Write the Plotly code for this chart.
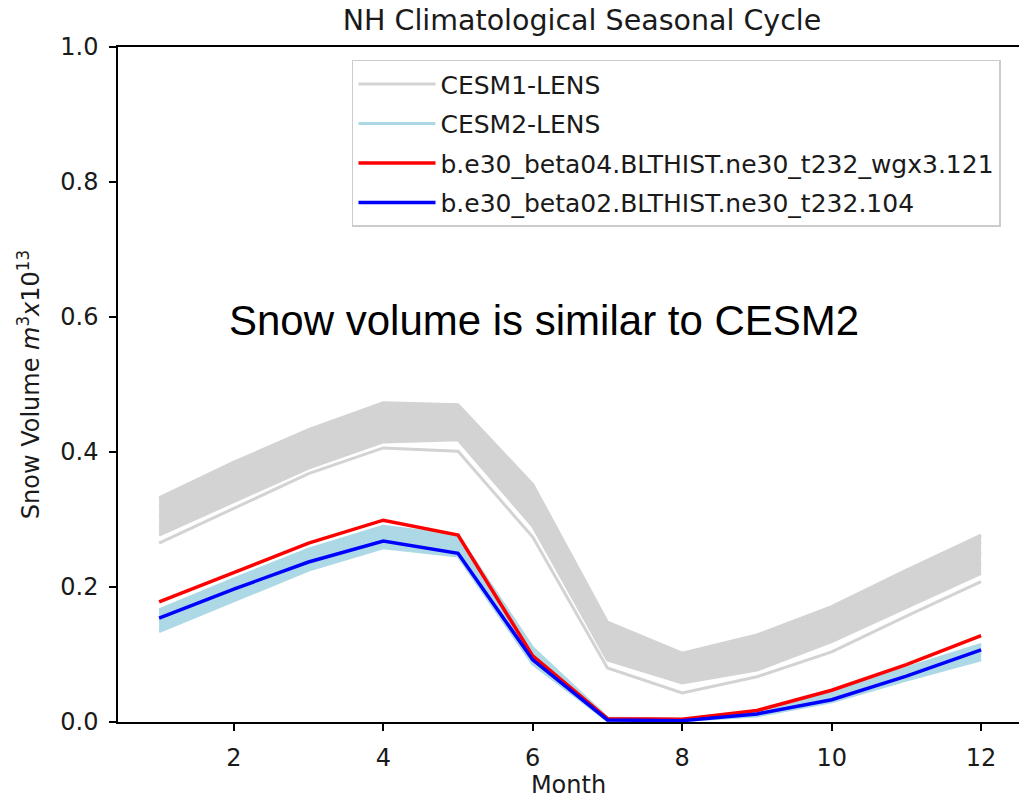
import plotly.graph_objects as go

months = [1, 2, 3, 4, 5, 6, 7, 8, 9, 10, 11, 12]

# CESM1-LENS ensemble members (top to bottom), units m^3 x 10^13
cesm1_m1 = [0.332, 0.385, 0.433, 0.473, 0.470, 0.352, 0.148, 0.102, 0.129, 0.171, 0.225, 0.277]
cesm1_m2 = [0.318, 0.372, 0.425, 0.465, 0.462, 0.340, 0.138, 0.093, 0.119, 0.160, 0.214, 0.266]
cesm1_m3 = [0.305, 0.358, 0.410, 0.452, 0.450, 0.325, 0.125, 0.082, 0.106, 0.148, 0.200, 0.252]
cesm1_m4 = [0.290, 0.342, 0.392, 0.432, 0.432, 0.308, 0.108, 0.070, 0.092, 0.133, 0.185, 0.236]
cesm1_m5 = [0.277, 0.326, 0.376, 0.415, 0.418, 0.290, 0.092, 0.058, 0.077, 0.119, 0.170, 0.220]
cesm1_m6 = [0.265, 0.317, 0.368, 0.406, 0.401, 0.274, 0.080, 0.043, 0.067, 0.104, 0.157, 0.208]

# CESM2-LENS ensemble members (top to bottom)
cesm2_m1 = [0.166, 0.212, 0.256, 0.290, 0.276, 0.110, 0.006, 0.004, 0.016, 0.046, 0.080, 0.115]
cesm2_m2 = [0.150, 0.196, 0.240, 0.274, 0.261, 0.098, 0.004, 0.003, 0.013, 0.038, 0.071, 0.103]
cesm2_m3 = [0.134, 0.180, 0.225, 0.258, 0.246, 0.086, 0.002, 0.002, 0.009, 0.030, 0.062, 0.092]

beta04 = [0.178, 0.222, 0.265, 0.299, 0.277, 0.098, 0.005, 0.004, 0.017, 0.047, 0.085, 0.128]
beta02 = [0.154, 0.197, 0.237, 0.268, 0.250, 0.092, 0.003, 0.002, 0.012, 0.033, 0.068, 0.107]

cesm1_members = [cesm1_m1, cesm1_m2, cesm1_m3, cesm1_m4, cesm1_m5]
cesm1_outlier = cesm1_m6
cesm2_members = [cesm2_m1, cesm2_m2, cesm2_m3]

x_ticks = [2, 4, 6, 8, 10, 12]
y_ticks = [0.0, 0.2, 0.4, 0.6, 0.8, 1.0]

GRAY = "#d3d3d3"
LBLUE = "#add8e6"
FONT = "DejaVu Sans"
TXT = "#1a1a1a"

fig = go.Figure()

for i, m in enumerate(cesm1_members):
    fig.add_trace(go.Scatter(
        x=months, y=m, mode="lines", name="CESM1-LENS",
        line=dict(color=GRAY, width=3),
        fill="tonexty" if i > 0 else None, fillcolor=GRAY,
        legendgroup="cesm1", showlegend=(i == 0)))
fig.add_trace(go.Scatter(
    x=months, y=cesm1_outlier, mode="lines", name="CESM1-LENS",
    line=dict(color=GRAY, width=3), legendgroup="cesm1", showlegend=False))

for i, m in enumerate(cesm2_members):
    fig.add_trace(go.Scatter(
        x=months, y=m, mode="lines", name="CESM2-LENS",
        line=dict(color=LBLUE, width=3),
        fill="tonexty" if i > 0 else None, fillcolor=LBLUE,
        legendgroup="cesm2", showlegend=(i == 0)))

fig.add_trace(go.Scatter(
    x=months, y=beta04, mode="lines",
    name="b.e30_beta04.BLTHIST.ne30_t232_wgx3.121",
    line=dict(color="#ff0000", width=3.5), legendgroup="red"))
fig.add_trace(go.Scatter(
    x=months, y=beta02, mode="lines",
    name="b.e30_beta02.BLTHIST.ne30_t232.104",
    line=dict(color="#0000ff", width=3.5), legendgroup="blue"))

fig.add_annotation(
    text="Snow volume is similar to CESM2", xref="paper", yref="paper",
    x=0.121, y=0.5955, xanchor="left", yanchor="middle", showarrow=False,
    font=dict(family="Liberation Sans, Arial", size=42, color="#000000"))

fig.update_layout(
    width=1019, height=799,
    margin=dict(l=118, r=0, t=47, b=77),
    paper_bgcolor="white", plot_bgcolor="white",
    font=dict(family=FONT, size=24, color=TXT),
    title=dict(text="NH Climatological Seasonal Cycle", xref="paper", x=0.515,
               xanchor="center", yref="container", y=1 - 20 / 799, yanchor="middle",
               font=dict(family=FONT, size=28.5, color=TXT)),
    showlegend=True,
    legend=dict(x=0.2597, y=0.981, xanchor="left", yanchor="top",
                bgcolor="white", bordercolor="#cccccc", borderwidth=1.5,
                font=dict(family=FONT, size=25, color=TXT),
                itemwidth=77, tracegroupgap=4),
    xaxis=dict(range=[0.45, 12.507], tickvals=x_ticks, ticks="outside", ticklen=7,
               tickwidth=1.5, tickcolor="black", showline=True, linecolor="black",
               linewidth=1.5, mirror=True, showgrid=False, zeroline=False,
               ticklabelstandoff=6,
               title=dict(text="Month", standoff=8, font=dict(size=24))),
    yaxis=dict(range=[0, 1], tickvals=y_ticks, tickformat=".1f", ticks="outside",
               ticklen=7, tickwidth=1.5, tickcolor="black", showline=True,
               linecolor="black", linewidth=1.5, showgrid=False, zeroline=False,
               ticklabelstandoff=6,
               title=dict(text="Snow Volume <i>m</i><sup>3</sup><i>x</i>10<sup>13</sup>",
                          standoff=14, font=dict(size=24))),
)

fig.write_html("out.html")
